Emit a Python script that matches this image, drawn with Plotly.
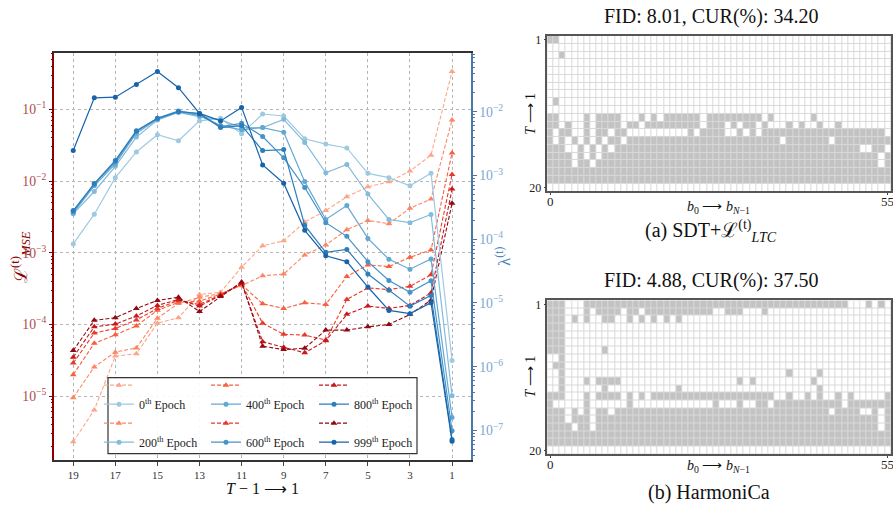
import plotly.graph_objects as go

# ---------------- data: line chart ----------------
T_STEPS = list(range(19, 0, -1))          # 19 ... 1
X_TICKS = [19, 17, 15, 13, 11, 9, 7, 5, 3, 1]
EPOCH_LABELS = ["0<sup>th</sup> Epoch", "200<sup>th</sup> Epoch", "400<sup>th</sup> Epoch",
                "600<sup>th</sup> Epoch", "800<sup>th</sup> Epoch", "999<sup>th</sup> Epoch"]

mse_e0 = [2.30e-6, 6.41e-6, 3.61e-5, 3.88e-5, 1.04e-4, 1.24e-4, 2.61e-4, 2.81e-4, 6.29e-4, 1.25e-3,
          1.47e-3, 2.68e-3, 3.88e-3, 6.05e-3, 8.32e-3, 9.75e-3, 1.38e-2, 2.30e-2, 0.339]
mse_e200 = [9.5e-6, 2.55e-5, 4.10e-5, 4.70e-5, 1.22e-4, 1.96e-4, 2.39e-4, 2.69e-4, 3.47e-4, 4.77e-4,
            5.04e-4, 9.3e-4, 1.28e-3, 2.10e-3, 2.82e-3, 2.54e-3, 4.18e-3, 5.62e-3, 7.14e-2]
mse_e400 = [1.99e-5, 5.45e-5, 7.16e-5, 9.53e-5, 1.57e-4, 2.04e-4, 2.11e-4, 2.64e-4, 3.58e-4, 1.94e-4,
            1.67e-4, 2.00e-4, 1.90e-4, 4.67e-4, 6.76e-4, 6.41e-4, 8.65e-4, 1.09e-3, 2.47e-2]
mse_e600 = [2.89e-5, 7.56e-5, 8.77e-5, 1.15e-4, 1.67e-4, 2.16e-4, 1.90e-4, 2.58e-4, 3.66e-4, 1.04e-4,
            7.26e-5, 7.10e-5, 6.05e-5, 2.23e-4, 3.23e-4, 3.06e-4, 3.40e-4, 4.92e-4, 1.24e-2]
mse_e800 = [3.49e-5, 9.24e-5, 1.01e-4, 1.31e-4, 1.84e-4, 2.23e-4, 1.80e-4, 2.53e-4, 3.76e-4, 5.74e-5,
            4.80e-5, 4.01e-5, 5.92e-5, 1.38e-4, 1.80e-4, 1.67e-4, 1.84e-4, 2.75e-4, 7.73e-3]
mse_e999 = [4.31e-5, 1.14e-4, 1.24e-4, 1.67e-4, 2.16e-4, 2.39e-4, 1.51e-4, 2.45e-4, 3.91e-4, 4.96e-5,
            4.45e-5, 4.66e-5, 8.32e-5, 8.32e-5, 9.24e-5, 9.97e-5, 1.38e-4, 2.18e-4, 4.90e-3]

lam_e0 = [8.45e-5, 2.47e-4, 9.24e-4, 2.34e-3, 4.35e-3, 3.51e-3, 7.18e-3, 7.87e-3, 4.51e-3, 9.21e-3,
          8.58e-3, 3.77e-3, 3.11e-3, 2.70e-3, 1.08e-3, 9.24e-4, 6.88e-4, 1.08e-3, 1.25e-6]
lam_e200 = [2.50e-4, 5.61e-4, 1.39e-3, 4.00e-3, 7.43e-3, 9.75e-3, 8.36e-3, 7.43e-3, 5.65e-3, 5.65e-3,
            7.60e-3, 3.30e-3, 1.10e-3, 1.49e-3, 5.11e-4, 2.04e-4, 1.82e-4, 2.44e-4, 3.51e-7]
lam_e400 = [2.59e-4, 6.88e-4, 1.52e-3, 4.61e-3, 7.60e-3, 1.00e-2, 8.67e-3, 6.07e-3, 5.20e-3, 5.65e-3,
            4.78e-3, 8.01e-4, 2.04e-4, 3.37e-4, 1.03e-4, 4.84e-5, 3.39e-5, 4.90e-5, 1.60e-7]
lam_e600 = [2.72e-4, 7.31e-4, 1.64e-3, 4.90e-3, 7.87e-3, 1.03e-2, 9.08e-3, 5.85e-3, 6.59e-3, 4.09e-3,
            1.89e-3, 6.47e-4, 1.82e-4, 1.11e-4, 4.45e-5, 2.26e-5, 1.47e-5, 2.23e-5, 9.9e-8]
lam_e800 = [2.82e-4, 7.46e-4, 1.72e-3, 5.02e-3, 7.87e-3, 1.00e-2, 9.41e-3, 5.65e-3, 6.07e-3, 2.46e-3,
            2.55e-3, 1.65e-4, 6.22e-5, 6.92e-5, 2.84e-5, 1.58e-5, 8.92e-6, 1.31e-5, 7.2e-8]
lam_e999 = [2.46e-3, 1.65e-2, 1.69e-2, 2.68e-2, 4.28e-2, 2.38e-2, 9.41e-3, 7.18e-3, 1.17e-2, 1.46e-3,
            7.57e-4, 1.38e-4, 5.51e-5, 4.45e-5, 1.78e-5, 7.65e-6, 6.80e-6, 1.01e-5, 6.8e-8]

MSE_SERIES = [mse_e0, mse_e200, mse_e400, mse_e600, mse_e800, mse_e999]
LAM_SERIES = [lam_e0, lam_e200, lam_e400, lam_e600, lam_e800, lam_e999]

# ---------------- data: cache maps (gray cells per row, rows T=1..20) ----------------
N_COLS = 56
HM_X_TICKS = [0, 55]
HM_Y_TICKS = [1, 20]
MAP_A_ROWS = ["0-1", "", "2", "", "", "", "", "", "1", "",
              "0-1 6 8-11 15 17 19-24 26-34 36 43",
              "0-1 3 6 8-11 13-14 16-24 26-28 30 32-33 35 39 41 44 47",
              "0 2-3 6 8-9 11-12 23 25-28 31 33 35-54",
              "0 2 4 6 8 10-11 13-37 39-45 47-55",
              "0-2 5 7 9 11-50 53-54",
              "0-3 5 7 9-53 55",
              "0-3 5-6 8-53 55",
              "0-55", "0-55", ""]
MAP_B_ROWS = ["0-2 6-48 52 54",
              "0-2 6 8-11 13-14 16-26 29-31 35",
              "0-2 4 6 9-10 13 15 17 19 21",
              "0-2", "0-2", "0-2", "0-2 9",
              "2", "1-2", "2 39 44",
              "2 6 8-11 31 33 43",
              "2 9 21 44",
              "0-2 6 8-11 13 15 17-36 39 42 44 47 49 55",
              "0 6 13 27 31 34-35 37-47 49-55",
              "0-2 4 6 8-9 11-45 47-50 53 55",
              "0-2 4-6 8-53 55",
              "0-3 5-6 8-53 55",
              "0-55", "0-55", ""]
TITLE_A = "FID: 8.01, CUR(%): 34.20"
TITLE_B = "FID: 4.88, CUR(%): 37.50"
CAPTION_A = "(a) SDT+ℒ<sup>(t)</sup><sub><i>LTC</i></sub>"
CAPTION_B = "(b) HarmoniCa"


def parse_row(spec):
    row = [0] * N_COLS
    for tok in spec.split():
        if "-" in tok:
            a, b = map(int, tok.split("-"))
            for c in range(a, b + 1):
                row[c] = 1
        else:
            row[int(tok)] = 1
    return row


Z_A = [parse_row(r) for r in MAP_A_ROWS]
Z_B = [parse_row(r) for r in MAP_B_ROWS]

# ---------------- styling ----------------
W, H = 893, 514
FONT = "Liberation Serif, Times New Roman, serif"
BLUES = ["#9ecae1", "#82bbdb", "#63a8d3", "#4593c7", "#2c7dbb", "#1764ab"]
REDS = ["#fca689", "#fc8767", "#f7603f", "#e8392b", "#c9181d", "#8f0912"]


def px(x):
    return x / W


def py(y):
    return 1 - y / H


fig = go.Figure()

legends = ["legend", "legend", "legend2", "legend2", "legend3", "legend3"]
for i in range(6):
    fig.add_trace(go.Scatter(
        x=T_STEPS, y=MSE_SERIES[i], mode="lines+markers", name=" ",
        line=dict(color=REDS[i], width=1.1, dash="4px,2px"),
        marker=dict(symbol="triangle-up", size=6, color=REDS[i]),
        xaxis="x", yaxis="y", legend=legends[i], legendrank=2 * i + 1,
        hoverinfo="skip"))
for i in range(6):
    fig.add_trace(go.Scatter(
        x=T_STEPS, y=LAM_SERIES[i], mode="lines+markers", name=EPOCH_LABELS[i],
        line=dict(color=BLUES[i], width=1.2),
        marker=dict(symbol="circle", size=5, color=BLUES[i]),
        xaxis="x", yaxis="y2", legend=legends[i], legendrank=2 * i + 2,
        hoverinfo="skip"))

for z, xa, ya in [(Z_A, "x2", "y3"), (Z_B, "x3", "y4")]:
    fig.add_trace(go.Heatmap(
        z=z, x=list(range(N_COLS)), y=list(range(1, 21)),
        colorscale=[[0, "#ffffff"], [1, "#c3c3c3"]], zmin=0, zmax=1,
        showscale=False, xgap=1, ygap=1, xaxis=xa, yaxis=ya, hoverinfo="skip"))

main_x = [px(54.3), px(471)]
main_y = [py(462), py(51)]
hm_x = [px(547.3), px(891)]
hm_a_y = [py(190.7), py(33.3)]
hm_b_y = [py(456.7), py(301)]

grid = dict(showgrid=True, gridcolor="#b5b5b5", griddash="dot", gridwidth=1)

layout = dict(
    width=W, height=H, margin=dict(l=0, r=0, t=0, b=0),
    paper_bgcolor="white", plot_bgcolor="white",
    font=dict(family=FONT, size=12, color="#222"),
    xaxis=dict(domain=main_x, anchor="y", range=[19.9, 0.1], tickmode="array", tickvals=X_TICKS,
               ticks="outside", ticklen=4, tickfont=dict(size=11, color="#333"),
               showline=True, linecolor="#333", linewidth=2, mirror=True, zeroline=False, **grid),
    yaxis=dict(domain=main_y, anchor="x", type="log", range=[-5.887, -0.218], dtick=1,
               exponentformat="power", ticks="outside", ticklen=4, tickcolor="#8b0000",
               tickfont=dict(size=11, color="#b04a4a"),
               minor=dict(ticks="outside", ticklen=2, tickcolor="#8b0000", showgrid=False),
               showline=True, linecolor="#8b0000", linewidth=1.6, zeroline=False, **grid),
    yaxis2=dict(anchor="x", overlaying="y", side="right", type="log", range=[-7.457, -1.085], dtick=1,
                exponentformat="power", ticks="outside", ticklen=4, tickcolor="#4a78a8",
                tickfont=dict(size=11, color="#7ba7d4"),
                minor=dict(ticks="outside", ticklen=2, tickcolor="#4a78a8", showgrid=False),
                showline=True, linecolor="#4a78a8", linewidth=2, showgrid=False, zeroline=False),
)

for xa, ya, ydom in [("xaxis2", "yaxis3", hm_a_y), ("xaxis3", "yaxis4", hm_b_y)]:
    xa_short = "x" + xa[5:]
    ya_short = "y" + ya[5:]
    layout[xa] = dict(domain=hm_x, anchor=ya_short, range=[-0.5, 55.5], tickmode="array",
                      tickvals=HM_X_TICKS, ticktext=["", ""], ticks="outside", ticklen=2,
                      showgrid=False, zeroline=False, showline=True, linecolor="#555",
                      linewidth=1.5, mirror=True)
    layout[ya] = dict(domain=ydom, anchor=xa_short, range=[20.5, 0.5], tickmode="array",
                      tickvals=HM_Y_TICKS, ticks="outside", ticklen=2, tickfont=dict(size=12, color="#222"),
                      showgrid=False, zeroline=False, showline=True, linecolor="#555",
                      linewidth=1.5, mirror=True)

leg_common = dict(orientation="v", xanchor="left", yanchor="top", bgcolor="rgba(0,0,0,0)",
                  borderwidth=0, font=dict(size=12, family=FONT, color="#222"), traceorder="normal")
layout["legend"] = dict(x=px(99), y=py(372), **leg_common)
layout["legend2"] = dict(x=px(206), y=py(372), **leg_common)
layout["legend3"] = dict(x=px(314), y=py(372), **leg_common)

fig.update_layout(**layout)

shapes = [
    dict(type="rect", xref="x2 domain", yref="y3 domain", x0=0, x1=1, y0=0, y1=1,
         fillcolor="#d9d9d9", line=dict(width=0), layer="below"),
    dict(type="rect", xref="x3 domain", yref="y4 domain", x0=0, x1=1, y0=0, y1=1,
         fillcolor="#d9d9d9", line=dict(width=0), layer="below"),
    dict(type="rect", xref="paper", yref="paper", x0=px(108), x1=px(417), y0=py(456), y1=py(379),
         fillcolor="rgba(255,255,255,0.9)", line=dict(color="#333", width=1.2), layer="above"),
]
fig.update_layout(shapes=shapes)

ann = []


def add_text(text, x, y, size, color="#111", angle=0, xanchor="center"):
    ann.append(dict(text=text, x=px(x), y=py(y), xref="paper", yref="paper", showarrow=False,
                    font=dict(family=FONT, size=size, color=color), textangle=angle,
                    xanchor=xanchor, yanchor="middle"))


# heatmap x tick labels placed on their axis values
for xref, yref in [("x2", "y3 domain"), ("x3", "y4 domain")]:
    for v in HM_X_TICKS:
        ann.append(dict(text=str(v), x=v, y=0, xref=xref, yref=yref, showarrow=False,
                        xanchor="center", yanchor="top", yshift=-1,
                        font=dict(family=FONT, size=13, color="#222")))

add_text(TITLE_A, 711, 14, 20)
add_text(CAPTION_A, 711, 231, 20)
add_text(TITLE_B, 711, 281, 20)
add_text(CAPTION_B, 709, 495, 20)
add_text("<i>b</i><sub>0</sub> ⟶ <i>b</i><sub><i>N</i>−1</sub>", 718, 207, 14)
add_text("<i>b</i><sub>0</sub> ⟶ <i>b</i><sub><i>N</i>−1</sub>", 718, 469, 14)
add_text("<i>T</i> ⟶ 1", 531, 112, 14, angle=-90)
add_text("<i>T</i> ⟶ 1", 531, 378, 14, angle=-90)
add_text("<i>T</i> − 1 ⟶ 1", 262.6, 491, 16)
add_text("ℒ<sup>(t)</sup><sub><i>MSE</i></sub>", 20, 257, 18, color="#8b0000", angle=-90)
add_text("λ<sup>(t)</sup>", 503, 256, 17, color="#4a86c5", angle=-90)
fig.update_layout(annotations=ann)

fig.write_html("out.html", config={"displayModeBar": False},
               post_script="document.body.style.margin='0';")
